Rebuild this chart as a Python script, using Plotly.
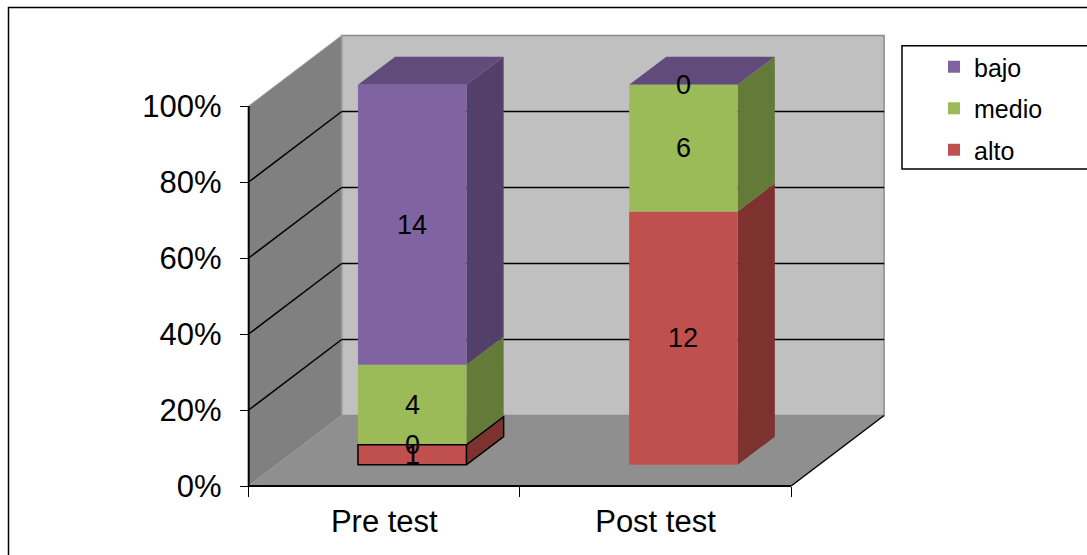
import plotly.graph_objects as go

# ---------------- data ----------------
categories = ["Pre test", "Post test"]
alto = [1, 12]
sin_dato = [0, None]      # unlabeled series that only shows a "0" label
medio = [4, 6]
bajo = [14, 0]
y_tick_vals = [0, 0.2, 0.4, 0.6, 0.8, 1.0]

series = [
    ("alto", alto, True, 3),
    ("sin dato", sin_dato, False, 4),
    ("medio", medio, True, 2),
    ("bajo", bajo, True, 1),
]
colors = {
    "alto": ("#C0504D", "#7D3230", "#8A3A38"),
    "sin dato": ("#C0504D", "#7D3230", "#8A3A38"),
    "medio": ("#9BBB59", "#637A38", "#6F8A40"),
    "bajo": ("#8064A2", "#52406A", "#604B7B"),
}

# ---------------- geometry (pixels of the page) ----------------
FW, FH = 1087, 555
L, R, T, B = 236, 895, 28, 496          # plot area
AX_X0, AX_Y0 = 248.7, 486.0             # front-left corner of the 3D box
CAT_PX, PCT_PX = 271.2, 380.0
DEPTH_DX, DEPTH_DY = 93.0, 70.5

dxu = DEPTH_DX / CAT_PX
dyu = DEPTH_DY / PCT_PX
xrange_ = [-0.5 - (AX_X0 - L) / CAT_PX, -0.5 + (R - AX_X0) / CAT_PX]
yrange_ = [-(B - AX_Y0) / PCT_PX, (AX_Y0 - T) / PCT_PX]
PW, PH = R - L, B - T


def px(xp):
    return (xp - L) / PW


def py(yp):
    return (B - yp) / PH


bar_w = 0.40
front_f = 0.3
depth_f = 0.4
off = -bar_w / 2 + front_f * dxu
ddx, ddy = depth_f * dxu, depth_f * dyu
x0 = -0.5
x1 = len(categories) - 0.5

totals = [sum(v[j] for _, v, _, _ in series if v[j] is not None) for j in range(len(categories))]

shapes = []


def path(pts):
    return "M " + " L ".join(f"{a:.5f},{b:.5f}" for a, b in pts) + " Z"


# walls
shapes.append(dict(type="path", xref="x", yref="y", layer="below",
                   path=path([(x0 + dxu, dyu), (x1 + dxu, dyu), (x1 + dxu, 1 + dyu), (x0 + dxu, 1 + dyu)]),
                   fillcolor="#C0C0C0", line=dict(color="#8C8C8C", width=1.5)))
shapes.append(dict(type="path", xref="x", yref="y", layer="below",
                   path=path([(x0, 0), (x0, 1), (x0 + dxu, 1 + dyu), (x0 + dxu, dyu)]),
                   fillcolor="#808080", line=dict(color="#A0A0A0", width=1)))
shapes.append(dict(type="path", xref="x", yref="y", layer="below",
                   path=path([(x0, 0), (x1, 0), (x1 + dxu, dyu), (x0 + dxu, dyu)]),
                   fillcolor="#8F8F8F", line=dict(width=0)))
# gridlines
for v in y_tick_vals[1:-1]:
    shapes.append(dict(type="line", xref="x", yref="y", layer="below",
                       x0=x0 + dxu, x1=x1 + dxu, y0=v + dyu, y1=v + dyu,
                       line=dict(color="black", width=1.5)))
    shapes.append(dict(type="line", xref="x", yref="y", layer="below",
                       x0=x0, x1=x0 + dxu, y0=v, y1=v + dyu,
                       line=dict(color="black", width=1.5)))
# box edges
shapes.append(dict(type="line", xref="x", yref="y", layer="below",
                   x0=x1, x1=x1 + dxu, y0=0, y1=dyu, line=dict(color="black", width=1.5)))
shapes.append(dict(type="line", xref="x", yref="y", layer="below",
                   x0=x0, x1=x1, y0=0, y1=0, line=dict(color="black", width=2)))
shapes.append(dict(type="line", xref="x", yref="y", layer="below",
                   x0=x0, x1=x0, y0=0, y1=1, line=dict(color="black", width=2)))

fig = go.Figure()
annotations = []
outline_shapes = []
cum = [front_f * dyu] * len(categories)
for name, vals, legend, rank in series:
    front, side, top = colors[name]
    xs, hs, bs = [], [], []
    for j, v in enumerate(vals):
        if v is None:
            continue
        h = v / totals[j]
        base = cum[j]
        outlined = (name == "alto" and j == 0)
        xs.append(categories[j]); hs.append(h); bs.append(base)
        annotations.append(dict(x=j + front_f * dxu, y=base + h / 2, xref="x", yref="y",
                                text=str(v), showarrow=False,
                                font=dict(size=27, color="black")))
        if h > 0:
            xl_ = j + off
            xr_ = xl_ + bar_w
            shapes.append(dict(type="path", xref="x", yref="y", layer="below",
                               path=path([(xr_, base), (xr_ + ddx, base + ddy),
                                          (xr_ + ddx, base + h + ddy), (xr_, base + h)]),
                               fillcolor=side, line=dict(width=0)))
            if outlined:
                outline_shapes.append(dict(type="path", xref="x", yref="y", layer="above",
                                           path=path([(xl_, base), (xr_, base), (xr_ + ddx, base + ddy),
                                                      (xr_ + ddx, base + h + ddy), (xr_, base + h),
                                                      (xl_, base + h)]),
                                           fillcolor="rgba(0,0,0,0)", line=dict(color="black", width=1.5)))
                outline_shapes.append(dict(type="line", xref="x", yref="y", layer="above",
                                           x0=xr_, x1=xr_, y0=base, y1=base + h,
                                           line=dict(color="black", width=1.5)))
        cum[j] = base + h
    fig.add_trace(go.Bar(
        x=xs, y=hs, base=bs, width=bar_w, offset=off, name=name,
        legendgroup=name, showlegend=legend, legendrank=rank,
        marker=dict(color=front, line=dict(width=0)),
        hoverinfo="skip",
    ))

# top faces
top_color = colors[series[-1][0]][2]
for j in range(len(categories)):
    xl_ = j + off
    xr_ = xl_ + bar_w
    yt = cum[j]
    shapes.append(dict(type="path", xref="x", yref="y", layer="below",
                       path=path([(xl_, yt), (xr_, yt), (xr_ + ddx, yt + ddy), (xl_ + ddx, yt + ddy)]),
                       fillcolor=top_color, line=dict(width=0)))
shapes.extend(outline_shapes)

# legend box and outer border
shapes.append(dict(type="rect", xref="paper", yref="paper",
                   x0=px(902), x1=px(1100), y0=py(169), y1=py(45.7),
                   line=dict(color="black", width=1.5), fillcolor="rgba(0,0,0,0)"))
shapes.append(dict(type="rect", xref="paper", yref="paper",
                   x0=px(8.5), x1=px(1100), y0=py(570), y1=py(7.5),
                   line=dict(color="black", width=1.5), fillcolor="rgba(0,0,0,0)"))

fig.update_layout(
    width=FW, height=FH,
    margin=dict(l=L, r=FW - R, t=T, b=FH - B, pad=0),
    paper_bgcolor="white", plot_bgcolor="rgba(0,0,0,0)",
    barmode="overlay",
    font=dict(family="Liberation Sans, Arial, sans-serif", color="black"),
    shapes=shapes, annotations=annotations,
    showlegend=True,
    legend=dict(x=px(934), y=py(44), xanchor="left", yanchor="top",
                traceorder="grouped", tracegroupgap=6,
                font=dict(size=25), bgcolor="rgba(0,0,0,0)", borderwidth=0),
    xaxis=dict(type="category", range=xrange_, categoryorder="array", categoryarray=categories,
               tickson="boundaries", ticks="outside", ticklen=10, tickwidth=1.3, tickcolor="black",
               showgrid=False, showline=False, zeroline=False, anchor="free",
               position=(B - AX_Y0) / PH, tickfont=dict(size=31), ticklabelstandoff=14,
               fixedrange=True),
    yaxis=dict(range=yrange_, tickvals=y_tick_vals, tickformat=".0%",
               ticks="outside", ticklen=9, tickwidth=1.3, tickcolor="black",
               showgrid=False, showline=False, zeroline=False, anchor="free",
               position=(AX_X0 - L) / PW, tickfont=dict(size=31), ticklabelstandoff=12,
               fixedrange=True),
)

fig.write_html("out.html", config={"displayModeBar": False},
               post_script="document.body.style.margin='0';document.body.style.overflow='hidden';")
